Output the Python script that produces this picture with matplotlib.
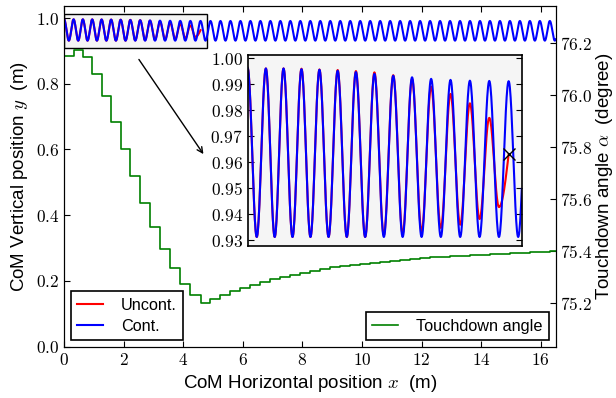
import numpy as np
import matplotlib
matplotlib.use("Agg")
import matplotlib.pyplot as plt
from matplotlib.patches import Rectangle
from matplotlib.ticker import FuncFormatter

plt.rcParams["font.family"] = ["Liberation Sans", "DejaVu Sans"]
plt.rcParams["mathtext.fontset"] = "cm"
plt.rcParams["xtick.direction"] = "in"
plt.rcParams["ytick.direction"] = "in"

# apex positions of each stride (m)
apex_x = [0.0, 0.32, 0.63, 0.945, 1.26, 1.58, 1.90, 2.225, 2.555, 2.885,
          3.22, 3.56, 3.90, 4.24, 4.58, 4.915, 5.25, 5.585, 5.92, 6.255,
          6.59, 6.925, 7.26, 7.595, 7.93, 8.265, 8.60, 8.935, 9.27, 9.605,
          9.94, 10.275, 10.61, 10.945, 11.28, 11.615, 11.95, 12.285, 12.62, 12.955,
          13.29, 13.625, 13.96, 14.295, 14.63, 14.965, 15.30, 15.635, 15.97, 16.305,
          16.64]

# controlled run: apex and bottom heights (m)
cont_apex = [0.9963, 0.9961, 0.9961, 0.9958, 0.9956, 0.9952, 0.9947, 0.9940, 0.9933, 0.9927,
             0.9921, 0.9917, 0.9914, 0.9913, 0.9912] + [0.9911] * 36
cont_bottom = [0.9313] * 50

# uncontrolled run (falls at x_fall)
uncont_apex = [0.9963, 0.9961, 0.9961, 0.9960, 0.9957, 0.9955, 0.9951, 0.9946, 0.9935, 0.9920,
               0.9891, 0.9863, 0.9827, 0.9771]
uncont_bottom = [0.9313, 0.9313, 0.9313, 0.9313, 0.9313, 0.9313, 0.9313, 0.9320, 0.9325, 0.9335,
                 0.9348, 0.9360, 0.9382, 0.9428]
x_fall, y_fall = 4.58, 0.9631

# touchdown angle per stride (degree)
angle = [76.151, 76.174, 76.146, 76.083, 75.997, 75.898, 75.793, 75.690, 75.585, 75.492,
         75.409, 75.337, 75.275, 75.231, 75.202, 75.217, 75.233, 75.246, 75.258, 75.271,
         75.282, 75.292, 75.302, 75.310, 75.317, 75.325, 75.331, 75.338, 75.343, 75.348,
         75.352, 75.356, 75.360, 75.364, 75.367, 75.370, 75.373, 75.376, 75.379, 75.381,
         75.383, 75.385, 75.387, 75.389, 75.391, 75.393, 75.395, 75.397, 75.399, 75.400]


def trajectory(xa, top, bot, n=25):
    # smooth path through apex / bottom extremes
    ex, ey = [], []
    for k in range(len(bot)):
        ex += [xa[k], 0.5 * (xa[k] + xa[k + 1])]
        ey += [top[k], bot[k]]
    if len(top) > len(bot):
        ex.append(xa[len(bot)])
        ey.append(top[len(bot)])
    xs, ys = [], []
    for i in range(len(ex) - 1):
        t = np.linspace(0, 1, n)
        xs.append(ex[i] + (ex[i + 1] - ex[i]) * t)
        ys.append(ey[i] + (ey[i + 1] - ey[i]) * (1 - np.cos(np.pi * t)) / 2)
    return np.concatenate(xs), np.concatenate(ys)


xc, yc = trajectory(apex_x, cont_apex, cont_bottom)
xu, yu = trajectory(apex_x, uncont_apex, uncont_bottom)
# last rise before the fall
t = np.linspace(0, 1, 20)
x0 = 0.5 * (apex_x[13] + apex_x[14])
xu = np.concatenate([xu, x0 + (x_fall - x0) * t])
yu = np.concatenate([yu, uncont_bottom[-1] + (y_fall - uncont_bottom[-1]) * (1 - np.cos(np.pi / 2 * t))])

fig = plt.figure(figsize=(6.16, 3.98), dpi=100)
ax = fig.add_axes([0.104, 0.129, 0.798, 0.857])
ax2 = ax.twinx()

ax.add_patch(Rectangle((0, 0.909), 4.81, 0.103, facecolor="0.96", edgecolor="k", lw=1, zorder=1.5))
lu, = ax.plot(xu, yu, color="r", lw=1.5, label="Uncont.")
lc, = ax.plot(xc, yc, color="b", lw=1.5, label="Cont.")
ax.annotate("", xy=(4.73, 0.579), xytext=(2.46, 0.881),
            arrowprops=dict(arrowstyle="->", color="k", lw=1))

ax.set_xlim(0, 16.5)
ax.set_ylim(0, 1.038)
ax.set_xticks(np.arange(0, 17, 2))
ax.set_yticks(np.arange(0, 1.01, 0.2))
ax.xaxis.set_major_formatter(FuncFormatter(lambda v, p: "$%d$" % v))
ax.yaxis.set_major_formatter(FuncFormatter(lambda v, p: "$%.1f$" % v))
ax.tick_params(labelsize=12.5, length=4, top=True)
ax.set_xlabel("CoM Horizontal position $x$  (m)", fontsize=13.5)
ax.set_ylabel("CoM Vertical position $y$  (m)", fontsize=13.5)
leg1 = ax.legend(handles=[lu, lc], loc="lower left", fontsize=11.7, fancybox=False,
                 edgecolor="k", framealpha=1, handlelength=1.6, handletextpad=1.1,
                 labelspacing=0.35, borderaxespad=0.4)
leg1.get_frame().set_linewidth(1.2)

lg, = ax2.step(apex_x, angle + [angle[-1]], where="post", color=(0, 0.5, 0), lw=1.2,
               label="Touchdown angle")
ax2.set_ylim(75.033, 76.345)
ax2.set_yticks(np.arange(75.2, 76.21, 0.2))
ax2.yaxis.set_major_formatter(FuncFormatter(lambda v, p: "$%.1f$" % v))
ax2.tick_params(labelsize=12.5, length=4)
ax2.set_ylabel(r"Touchdown angle $\alpha$  (degree)", fontsize=13.5, labelpad=1)
leg2 = ax2.legend(handles=[lg], loc="lower right", fontsize=11.7, fancybox=False,
                  edgecolor="k", framealpha=1, handlelength=1.6, handletextpad=1.1,
                  borderaxespad=0.4)
leg2.get_frame().set_linewidth(1.2)

axin = fig.add_axes([0.402, 0.383, 0.445, 0.479], facecolor="0.96")
axin.plot(xu, yu, color="r", lw=1.5)
axin.plot(xc, yc, color="b", lw=1.5)
axin.plot([x_fall], [y_fall], "kx", ms=8, mew=1)
axin.set_xlim(0, 4.81)
axin.set_ylim(0.928, 1.0013)
axin.set_xticks([])
axin.set_yticks(np.arange(0.93, 1.001, 0.01))
axin.yaxis.set_major_formatter(FuncFormatter(lambda v, p: "$%.2f$" % v))
axin.tick_params(labelsize=12.5, length=4, right=True)
for s in axin.spines.values():
    s.set_linewidth(1.2)

fig.savefig("out.png", dpi=100)
